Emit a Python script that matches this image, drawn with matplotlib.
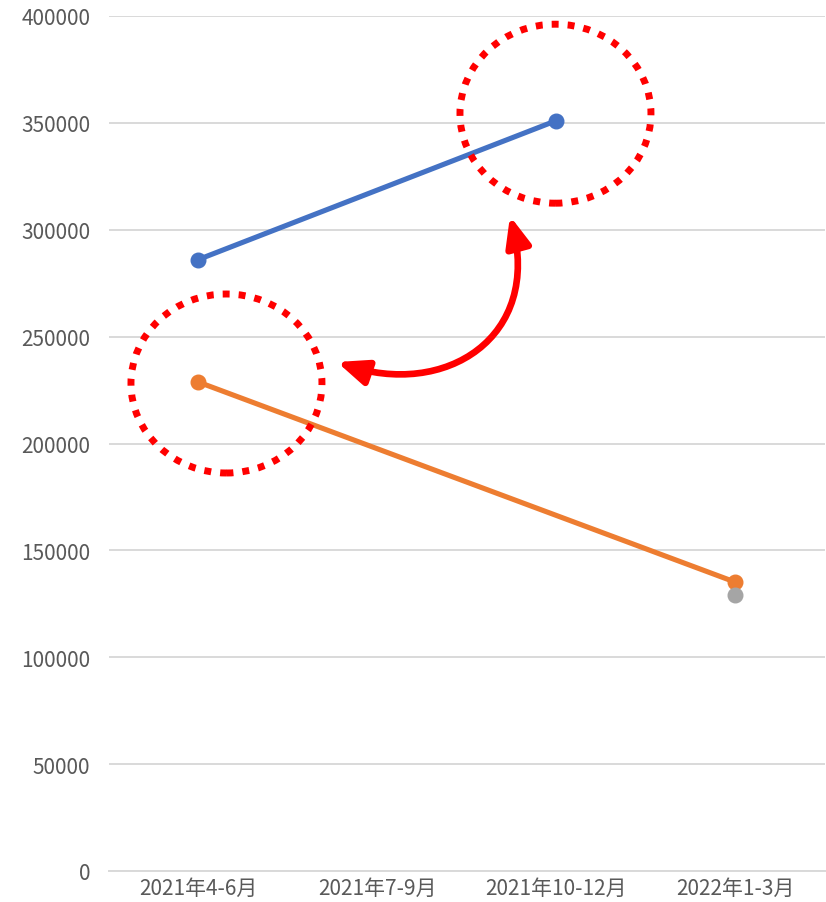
import matplotlib
matplotlib.use("Agg")
import matplotlib.pyplot as plt
import numpy as np
from matplotlib.patches import Ellipse, FancyArrowPatch
from matplotlib.path import Path

plt.rcParams['font.family'] = ['Noto Sans CJK JP', 'DejaVu Sans']

categories = ["2021年4-6月", "2021年7-9月", "2021年10-12月", "2022年1-3月"]
series_blue = [286000, None, 351000, None]
series_orange = [228800, None, None, 135200]
series_gray = [None, None, None, 129300]
yticks = [0, 50000, 100000, 150000, 200000, 250000, 300000, 350000, 400000]

colors = {"blue": "#4472C4", "orange": "#ED7D31", "gray": "#A5A5A5"}
label_color = "#595959"
grid_color = "#D9D9D9"

# annotation geometry (data units)
circle1 = dict(center=(0.159, 228070), width=1.067, height=83740)
circle2 = dict(center=(1.997, 354290), width=1.067, height=83740)
# cubic Bezier of the curved double arrow: start tip, two control points, end tip
arrow_path = [(0.7765, 238130), (1.3844, 220590), (1.9240, 249920), (1.7430, 306430)]

fig = plt.figure(figsize=(8.26, 9.03), dpi=100)
ax = fig.add_axes([108.5 / 826, 31 / 903, 716 / 826, 855 / 903])

x = np.arange(len(categories))
for vals, key in [(series_blue, "blue"), (series_orange, "orange"), (series_gray, "gray")]:
    xs = [i for i, v in zip(x, vals) if v is not None]
    ys = [v for v in vals if v is not None]
    ax.plot(xs, ys, color=colors[key], lw=3.7, marker="o", markersize=10.5,
            solid_capstyle="round", zorder=3)

ax.set_xlim(-0.5, len(categories) - 0.5)
ax.set_ylim(0, 400000)
ax.set_yticks(yticks)
ax.set_yticklabels([str(v) for v in yticks])
ax.set_xticks(x)
ax.set_xticklabels(categories)

ax.grid(axis="y", color=grid_color, lw=1.4)
ax.set_axisbelow(True)
for s in ["top", "right", "left"]:
    ax.spines[s].set_visible(False)
ax.spines["bottom"].set_color(grid_color)
ax.spines["bottom"].set_linewidth(1.4)
ax.tick_params(axis="both", length=0, labelsize=15, labelcolor=label_color)
ax.tick_params(axis="y", pad=13)
ax.tick_params(axis="x", pad=4)

for c in (circle1, circle2):
    e = Ellipse(c["center"], c["width"], c["height"], fill=False, edgecolor="#FF0000",
                lw=5.0, linestyle=(0, (1.0, 1.3)), clip_on=False, zorder=4)
    ax.add_patch(e)

path = Path(arrow_path, [Path.MOVETO, Path.CURVE4, Path.CURVE4, Path.CURVE4])
arr = FancyArrowPatch(path=path,
                      arrowstyle="<|-|>,head_length=1.8,head_width=0.75",
                      mutation_scale=10, color="#FF0000", lw=4.8,
                      zorder=5, clip_on=False)
ax.add_patch(arr)

fig.savefig("out.png", dpi=100)
